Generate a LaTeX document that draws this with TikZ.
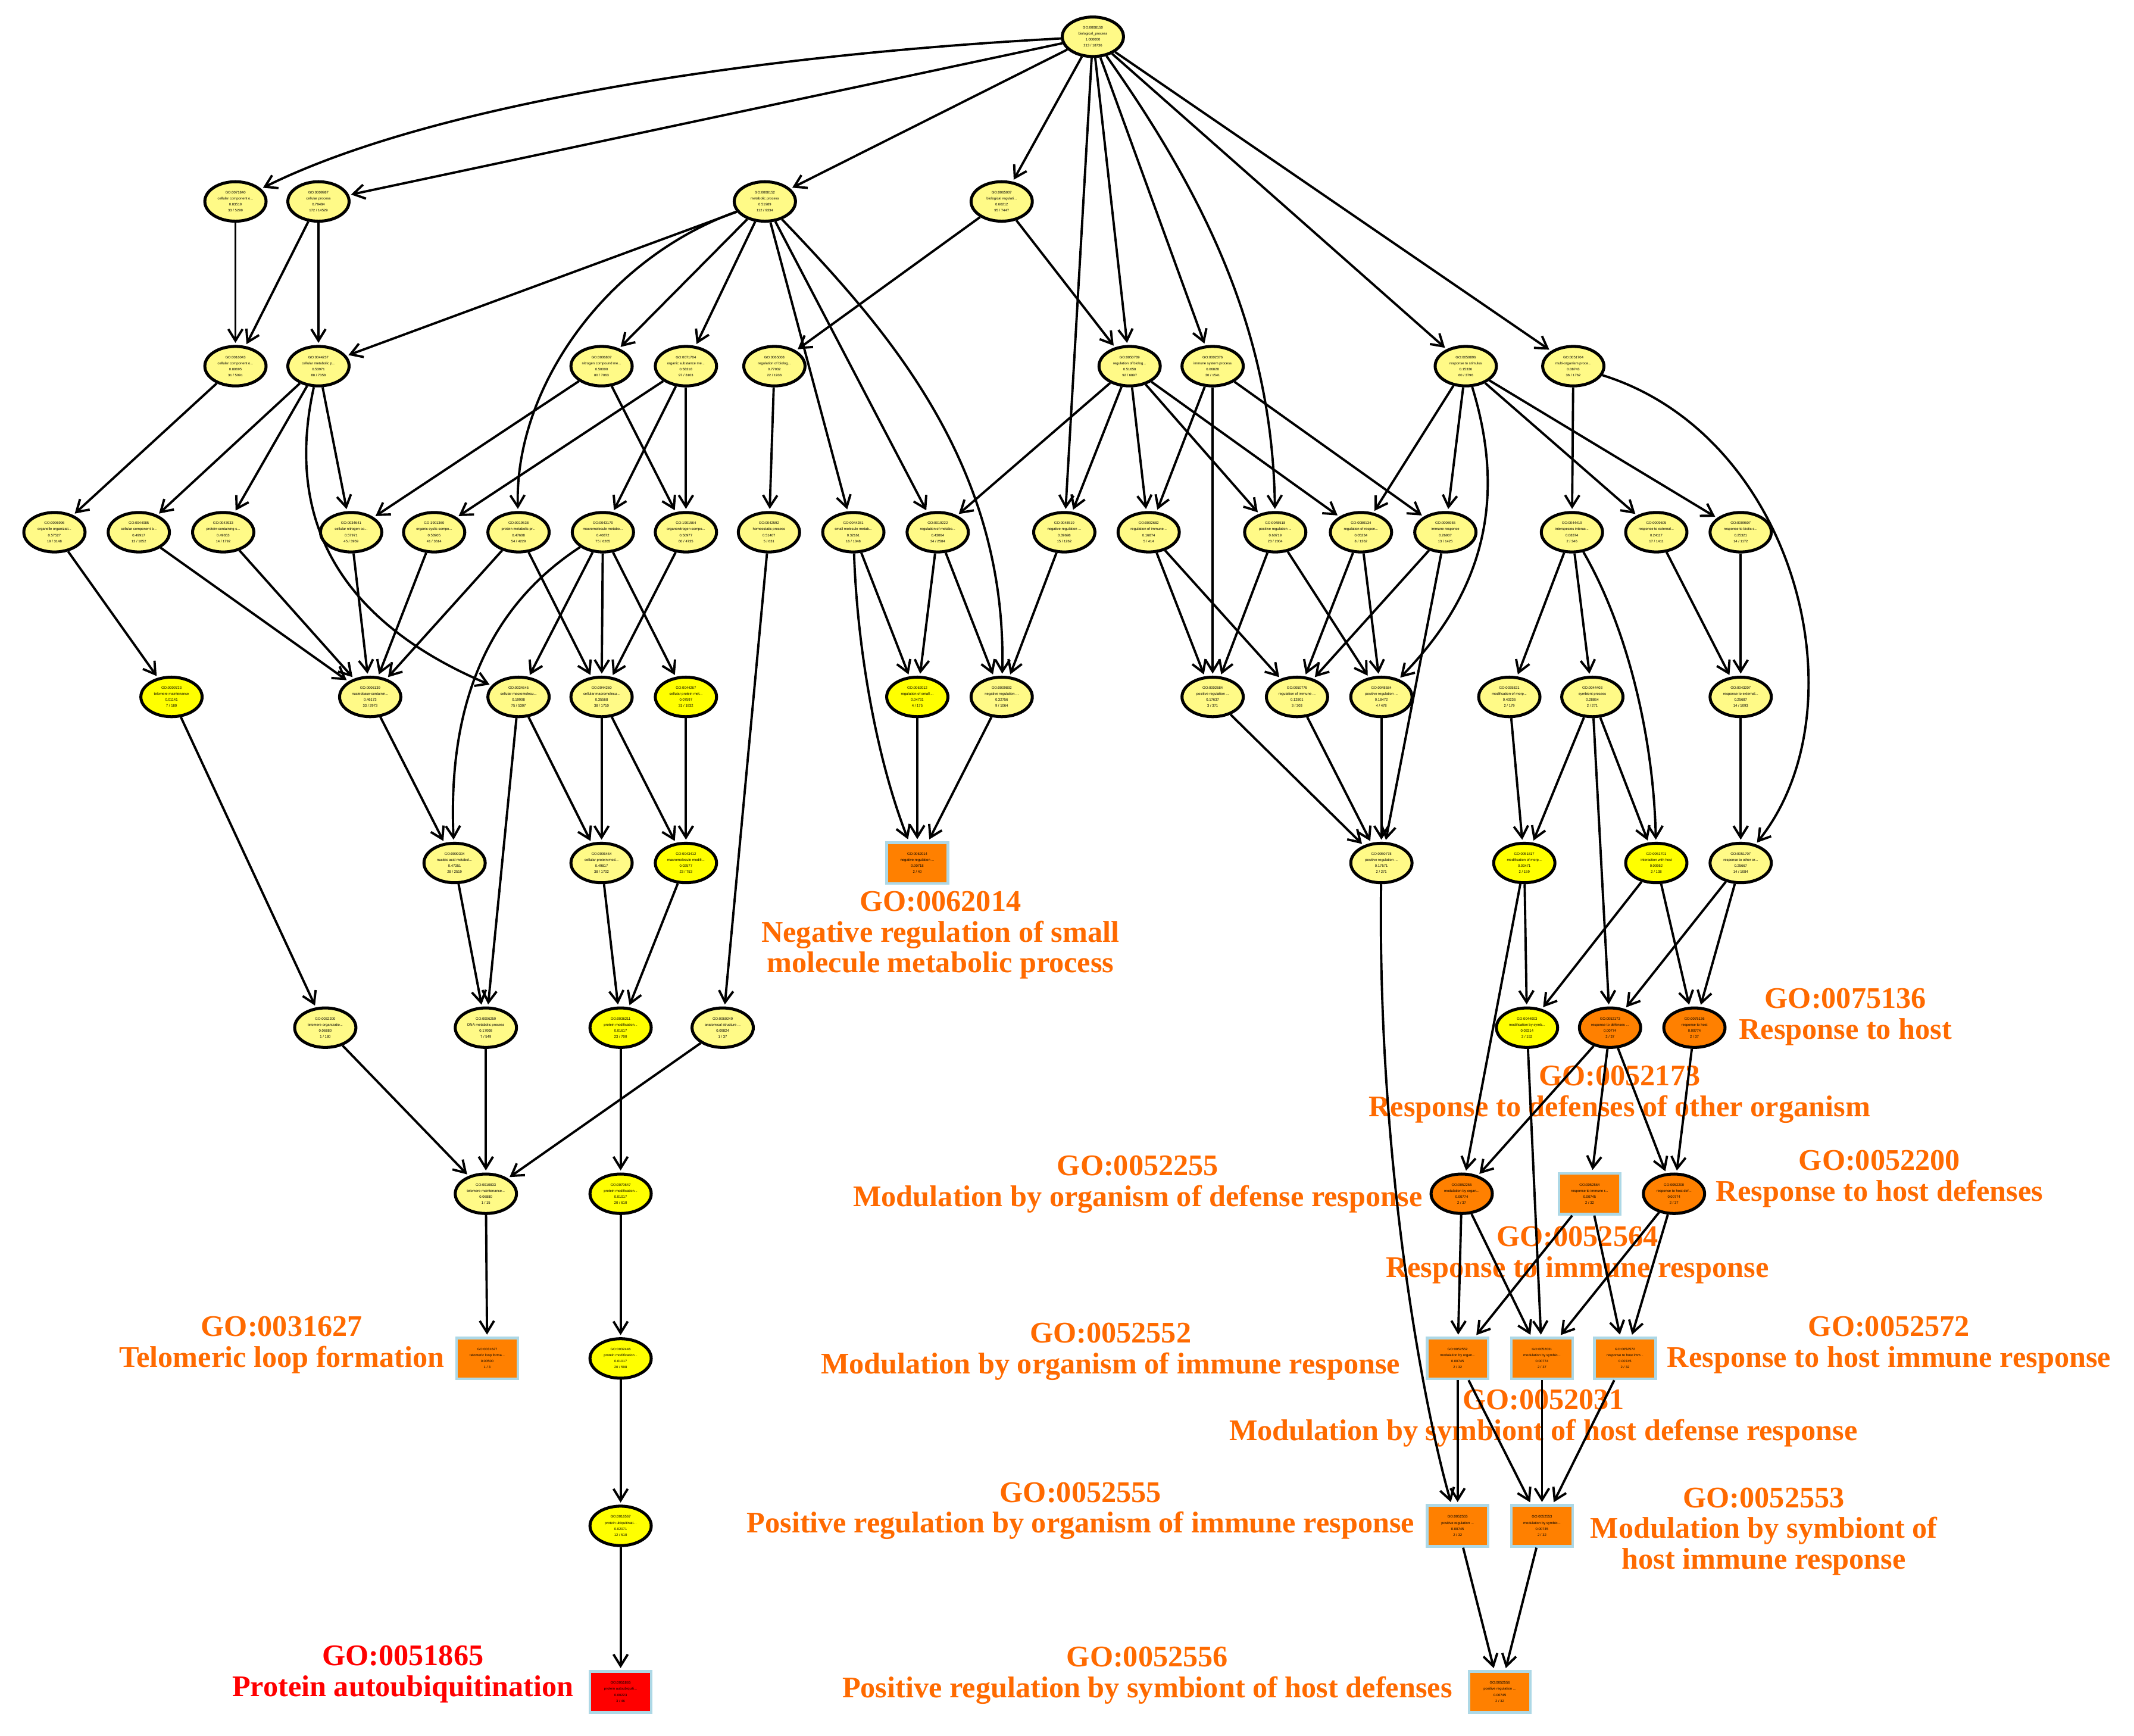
\documentclass[tikz,border=0pt]{standalone}
\usepackage{fontspec}
\setmainfont{Liberation Serif}
\newfontfamily\nodefont{Liberation Sans}
\usetikzlibrary{shapes.geometric,arrows.meta}
\definecolor{lyel}{RGB}{255,250,135}
\definecolor{byel}{RGB}{255,255,0}
\definecolor{gorange}{RGB}{255,128,0}
\definecolor{labor}{RGB}{255,106,0}
\definecolor{gred}{RGB}{255,0,0}
\definecolor{rectb}{RGB}{173,216,230}
\tikzset{
  gonode/.style={ellipse, draw=black, line width=2.2pt, fill=lyel, minimum width=45pt, minimum height=29pt, inner sep=0pt, align=center, font=\nodefont\fontsize{2.6}{4.4}\selectfont},
  byn/.style={gonode, fill=byel},
  oen/.style={gonode, fill=gorange},
  gorect/.style={rectangle, draw=rectb, line width=2pt, fill=gorange, minimum width=45pt, minimum height=30pt, inner sep=0pt, align=center, font=\nodefont\fontsize{2.6}{4.4}\selectfont},
  redrect/.style={gorect, fill=gred},
  conn/.style={-{Straight Barb[length=8.5pt,width=10.5pt]}, line width=1.7pt, shorten >=1.5pt},
  lab/.style={font=\bfseries\fontsize{22}{22.5}\selectfont, text=labor, align=center, inner sep=0pt},
  redlab/.style={lab, text=gred}
}
\begin{document}
\begin{tikzpicture}[x=1pt,y=-1pt]
\fill[white] (0,0) rectangle (1568,1275);
\useasboundingbox (0,0) rectangle (1568,1275);

% ---------- labels ----------
\node[lab] (lab1) at (691,687) {GO:0062014\\Negative regulation of small\\molecule metabolic process};
\node[lab] (lab2) at (1356,747) {GO:0075136\\Response to host};
\node[lab] (lab3) at (1190,804) {GO:0052173\\Response to defenses of other organism};
\node[lab] (lab4) at (836,870) {GO:0052255\\Modulation by organism of defense response};
\node[lab] (lab5) at (1381,866) {GO:0052200\\Response to host defenses};
\node[lab] (lab6) at (1159,922) {GO:0052564\\Response to immune response};
\node[lab] (lab7) at (207,988) {GO:0031627\\Telomeric loop formation};
\node[lab] (lab8) at (816,993) {GO:0052552\\Modulation by organism of immune response};
\node[lab] (lab9) at (1388,988) {GO:0052572\\Response to host immune response};
\node[lab] (lab10) at (1134,1042) {GO:0052031\\Modulation by symbiont of host defense response};
\node[lab] (lab11) at (794,1110) {GO:0052555\\Positive regulation by organism of immune response};
\node[lab] (lab12) at (1296,1125) {GO:0052553\\Modulation by symbiont of\\host immune response};
\node[redlab] (lab13) at (296,1230) {GO:0051865\\Protein autoubiquitination};
\node[lab] (lab14) at (843,1231) {GO:0052556\\Positive regulation by symbiont of host defenses};

% ---------- nodes ----------
\node[gonode] (root) at (803,27) {GO:0008150\\biological\_process\\1.000000\\213 / 18736};

\node[gonode] (a1) at (173,148) {GO:0071840\\cellular component o...\\0.83519\\33 / 5299};
\node[gonode] (a2) at (234,148) {GO:0009987\\cellular process\\0.79484\\172 / 14529};
\node[gonode] (a3) at (562,148) {GO:0008152\\metabolic process\\0.51989\\112 / 9334};
\node[gonode] (a4) at (736,148) {GO:0065007\\biological regulati...\\0.60212\\95 / 7447};

\node[gonode] (b1) at (173,269) {GO:0016043\\cellular component o...\\0.80695\\31 / 5091};
\node[gonode] (b2) at (234,269) {GO:0044237\\cellular metabolic p...\\0.53971\\88 / 7358};
\node[gonode] (b3) at (442,269) {GO:0006807\\nitrogen compound me...\\0.50000\\80 / 7063};
\node[gonode] (b4) at (504,269) {GO:0071704\\organic substance me...\\0.58318\\97 / 8103};
\node[gonode] (b5) at (569,269) {GO:0065008\\regulation of biolog...\\0.77032\\22 / 1936};
\node[gonode] (b6) at (830,269) {GO:0050789\\regulation of biolog...\\0.51658\\92 / 6897};
\node[gonode] (b7) at (891,269) {GO:0002376\\immune system process\\0.06828\\30 / 1541};
\node[gonode] (b8) at (1077,269) {GO:0050896\\response to stimulus\\0.15336\\60 / 3796};
\node[gonode] (b9) at (1156,269) {GO:0051704\\multi-organism proce...\\0.08743\\36 / 1762};

\node[gonode] (c1) at (40,391) {GO:0006996\\organelle organizati...\\0.57527\\19 / 3148};
\node[gonode] (c2) at (102,391) {GO:0044085\\cellular component b...\\0.49917\\13 / 1852};
\node[gonode] (c3) at (164,391) {GO:0043933\\protein-containing c...\\0.49653\\14 / 1792};
\node[gonode] (c4) at (258,391) {GO:0034641\\cellular nitrogen co...\\0.57971\\45 / 3959};
\node[gonode] (c5) at (319,391) {GO:1901360\\organic cyclic compo...\\0.53905\\41 / 3614};
\node[gonode] (c6) at (381,391) {GO:0019538\\protein metabolic pr...\\0.47608\\54 / 4229};
\node[gonode] (c7) at (443,391) {GO:0043170\\macromolecule metabo...\\0.40872\\75 / 6265};
\node[gonode] (c8) at (504,391) {GO:1901564\\organonitrogen compo...\\0.50977\\60 / 4735};
\node[gonode] (c9) at (565,391) {GO:0042592\\homeostatic process\\0.51407\\5 / 631};
\node[gonode] (c10) at (627,391) {GO:0044281\\small molecule metab...\\0.32161\\16 / 1048};
\node[gonode] (c11) at (689,391) {GO:0019222\\regulation of metabo...\\0.43064\\34 / 2584};
\node[gonode] (c12) at (782,391) {GO:0048519\\negative regulation ...\\0.39698\\15 / 1262};
\node[gonode] (c13) at (844,391) {GO:0002682\\regulation of immune...\\0.16874\\5 / 414};
\node[gonode] (c14) at (937,391) {GO:0048518\\positive regulation ...\\0.60719\\23 / 2004};
\node[gonode] (c15) at (1000,391) {GO:0080134\\regulation of respon...\\0.05234\\8 / 1362};
\node[gonode] (c16) at (1062,391) {GO:0006955\\immune response\\0.26907\\13 / 1425};
\node[gonode] (c17) at (1155,391) {GO:0044419\\interspecies interac...\\0.08374\\2 / 346};
\node[gonode] (c18) at (1217,391) {GO:0009605\\response to external...\\0.24117\\17 / 1411};
\node[gonode] (c19) at (1279,391) {GO:0009607\\response to biotic s...\\0.25321\\14 / 1172};

\node[byn] (d1) at (126,512) {GO:0000723\\telomere maintenance\\0.01141\\7 / 180};
\node[gonode] (d2) at (272,512) {GO:0006139\\nucleobase-containin...\\0.46173\\33 / 2973};
\node[gonode] (d3) at (381,512) {GO:0034645\\cellular macromolecu...\\0.19908\\75 / 5307};
\node[gonode] (d4) at (442,512) {GO:0044260\\cellular macromolecu...\\0.35568\\38 / 1710};
\node[byn] (d5) at (504,512) {GO:0044267\\cellular protein met...\\0.07597\\31 / 1932};
\node[byn] (d6) at (674,512) {GO:0062012\\regulation of small ...\\0.04731\\4 / 175};
\node[gonode] (d7) at (736,512) {GO:0009892\\negative regulation ...\\0.32756\\9 / 1064};
\node[gonode] (d8) at (891,512) {GO:0002684\\positive regulation ...\\0.17637\\3 / 371};
\node[gonode] (d9) at (953,512) {GO:0050776\\regulation of immune ...\\0.12801\\3 / 303};
\node[gonode] (d10) at (1015,512) {GO:0048584\\positive regulation ...\\0.18472\\4 / 478};
\node[gonode] (d11) at (1109,512) {GO:0035821\\modification of morp...\\0.40236\\2 / 179};
\node[gonode] (d12) at (1170,512) {GO:0044403\\symbiont process\\0.28864\\2 / 271};
\node[gonode] (d13) at (1279,512) {GO:0043207\\response to external...\\0.25687\\14 / 1093};

\node[gonode] (e1) at (334,634) {GO:0090304\\nucleic acid metabol...\\0.47351\\28 / 2519};
\node[gonode] (e2) at (442,634) {GO:0006464\\cellular protein mod...\\0.49817\\38 / 1702};
\node[byn] (e3) at (504,634) {GO:0043412\\macromolecule modifi...\\0.02577\\23 / 753};
\node[gorect] (e4) at (674,634) {GO:0062014\\negative regulation ...\\0.00718\\2 / 40};
\node[gonode] (e5) at (1015,634) {GO:0050778\\positive regulation ...\\0.17571\\2 / 271};
\node[byn] (e6) at (1120,634) {GO:0051817\\modification of morp...\\0.03471\\2 / 159};
\node[byn] (e7) at (1217,634) {GO:0051701\\interaction with host\\0.00952\\2 / 138};
\node[gonode] (e8) at (1279,634) {GO:0051707\\response to other or...\\0.25667\\14 / 1084};

\node[gonode] (f1) at (239,755) {GO:0032200\\telomere organizatio...\\0.06880\\1 / 180};
\node[gonode] (f2) at (357,755) {GO:0006259\\DNA metabolic process\\0.17008\\7 / 549};
\node[byn] (f3) at (456,755) {GO:0036211\\protein modification...\\0.01617\\23 / 700};
\node[gonode] (f4) at (531,755) {GO:0060249\\anatomical structure ...\\0.09824\\1 / 37};
\node[byn] (f5) at (1122,755) {GO:0044003\\modification by symb...\\0.03314\\2 / 152};
\node[oen] (f6) at (1183,755) {GO:0052173\\response to defenses ...\\0.00774\\2 / 37};
\node[oen] (f7) at (1245,755) {GO:0075136\\response to host\\0.00774\\2 / 37};

\node[gonode] (g1) at (357,877) {GO:0010833\\telomere maintenance...\\0.06880\\1 / 15};
\node[byn] (g2) at (456,877) {GO:0070647\\protein modification...\\0.01017\\20 / 610};
\node[oen] (g3) at (1074,877) {GO:0052255\\modulation by organ...\\0.00774\\2 / 37};
\node[gorect] (g4) at (1168,877) {GO:0052564\\response to immune r...\\0.00745\\2 / 32};
\node[oen] (g5) at (1230,877) {GO:0052200\\response to host def...\\0.00774\\2 / 37};

\node[gorect] (h1) at (358,998) {GO:0031627\\telomeric loop forma...\\0.00500\\1 / 3};
\node[byn] (h2) at (456,998) {GO:0032446\\protein modification...\\0.01017\\20 / 598};
\node[gorect] (h3) at (1071,998) {GO:0052552\\modulation by organ...\\0.00745\\2 / 32};
\node[gorect] (h4) at (1133,998) {GO:0052031\\modulation by symbio...\\0.00774\\2 / 37};
\node[gorect] (h5) at (1194,998) {GO:0052572\\response to host imm...\\0.00745\\2 / 32};

\node[byn] (i1) at (456,1121) {GO:0016567\\protein ubiquitinati...\\0.02071\\12 / 510};
\node[gorect] (i2) at (1071,1121) {GO:0052555\\positive regulation ...\\0.00745\\2 / 32};
\node[gorect] (i3) at (1133,1121) {GO:0052553\\modulation by symbio...\\0.00745\\2 / 32};

\node[redrect] (j1) at (456,1243) {GO:0051865\\protein autoubiquiti...\\0.00223\\3 / 46};
\node[gorect] (j2) at (1102,1243) {GO:0052556\\positive regulation ...\\0.00745\\2 / 32};

% ---------- connectors ----------
\draw[conn] (root) .. controls (560,40) and (320,75) .. (a1);
\draw[conn] (root) -- (a2);
\draw[conn] (root) -- (a3);
\draw[conn] (root) -- (a4);
\draw[conn] (root) -- (c12);
\draw[conn] (root) -- (b6);
\draw[conn] (root) -- (b7);
\draw[conn] (root) .. controls (890,150) and (935,250) .. (c14);
\draw[conn] (root) -- (b8);
\draw[conn] (root) -- (b9);

\draw[conn] (a1) -- (b1);
\draw[conn] (a2) -- (b1);
\draw[conn] (a2) -- (b2);
\draw[conn] (a3) -- (b2);
\draw[conn] (a3) .. controls (445,190) and (378,285) .. (c6);
\draw[conn] (a3) -- (b3);
\draw[conn] (a3) -- (b4);
\draw[conn] (a3) -- (c10);
\draw[conn] (a3) -- (c11);
\draw[conn] (a3) .. controls (650,240) and (740,340) .. (d7);
\draw[conn] (a4) -- (b5);
\draw[conn] (a4) -- (b6);

\draw[conn] (b1) -- (c1);
\draw[conn] (b2) -- (c2);
\draw[conn] (b2) -- (c3);
\draw[conn] (b2) -- (c4);
\draw[conn] (b2) .. controls (205,400) and (270,465) .. (d3);
\draw[conn] (b3) -- (c4);
\draw[conn] (b3) -- (c8);
\draw[conn] (b4) -- (c5);
\draw[conn] (b4) -- (c7);
\draw[conn] (b4) -- (c8);
\draw[conn] (b5) -- (c9);
\draw[conn] (b6) -- (c11);
\draw[conn] (b6) -- (c12);
\draw[conn] (b6) -- (c13);
\draw[conn] (b6) -- (c14);
\draw[conn] (b6) -- (c15);
\draw[conn] (b7) -- (c13);
\draw[conn] (b7) -- (d8);
\draw[conn] (b7) -- (c16);
\draw[conn] (b8) -- (c15);
\draw[conn] (b8) -- (c16);
\draw[conn] (b8) .. controls (1105,360) and (1095,430) .. (d10);
\draw[conn] (b8) -- (c18);
\draw[conn] (b8) -- (c19);
\draw[conn] (b9) -- (c17);
\draw[conn] (b9) .. controls (1320,320) and (1370,520) .. (e8);

\draw[conn] (c1) -- (d1);
\draw[conn] (c2) -- (d2);
\draw[conn] (c3) -- (d2);
\draw[conn] (c4) -- (d2);
\draw[conn] (c5) -- (d2);
\draw[conn] (c6) -- (d2);
\draw[conn] (c6) -- (d4);
\draw[conn] (c7) .. controls (345,455) and (330,540) .. (e1);
\draw[conn] (c7) -- (d3);
\draw[conn] (c7) -- (d4);
\draw[conn] (c7) -- (d5);
\draw[conn] (c8) -- (d4);
\draw[conn] (c9) -- (f4);
\draw[conn] (c10) -- (d6);
\draw[conn] (c10) .. controls (630,480) and (645,560) .. (e4);
\draw[conn] (c11) -- (d6);
\draw[conn] (c11) -- (d7);
\draw[conn] (c12) -- (d7);
\draw[conn] (c13) -- (d8);
\draw[conn] (c13) -- (d9);
\draw[conn] (c14) -- (d8);
\draw[conn] (c14) -- (d10);
\draw[conn] (c15) -- (d9);
\draw[conn] (c15) -- (d10);
\draw[conn] (c16) -- (d9);
\draw[conn] (c16) -- (e5);
\draw[conn] (c17) -- (d11);
\draw[conn] (c17) -- (d12);
\draw[conn] (c17) .. controls (1195,460) and (1215,540) .. (e7);
\draw[conn] (c18) -- (d13);
\draw[conn] (c19) -- (d13);

\draw[conn] (d1) -- (f1);
\draw[conn] (d2) -- (e1);
\draw[conn] (d3) -- (e2);
\draw[conn] (d3) -- (f2);
\draw[conn] (d4) -- (e2);
\draw[conn] (d4) -- (e3);
\draw[conn] (d5) -- (e3);
\draw[conn] (d6) -- (e4);
\draw[conn] (d7) -- (e4);
\draw[conn] (d8) -- (e5);
\draw[conn] (d9) -- (e5);
\draw[conn] (d10) -- (e5);
\draw[conn] (d11) -- (e6);
\draw[conn] (d12) -- (e6);
\draw[conn] (d12) -- (e7);
\draw[conn] (d12) -- (f6);
\draw[conn] (d13) -- (e8);

\draw[conn] (e1) -- (f2);
\draw[conn] (e2) -- (f3);
\draw[conn] (e3) -- (f3);
\draw[conn] (e5) .. controls (1012,850) and (1045,1030) .. (i2);
\draw[conn] (e6) -- (f5);
\draw[conn] (e6) -- (g3);
\draw[conn] (e7) -- (f5);
\draw[conn] (e7) -- (f7);
\draw[conn] (e8) -- (f6);
\draw[conn] (e8) -- (f7);

\draw[conn] (f1) -- (g1);
\draw[conn] (f2) -- (g1);
\draw[conn] (f4) -- (g1);
\draw[conn] (f3) -- (g2);
\draw[conn] (f5) -- (h4);
\draw[conn] (f6) -- (g3);
\draw[conn] (f6) -- (g4);
\draw[conn] (f6) -- (g5);
\draw[conn] (f7) -- (g5);

\draw[conn] (g1) -- (h1);
\draw[conn] (g2) -- (h2);
\draw[conn] (g3) -- (h3);
\draw[conn] (g3) -- (h4);
\draw[conn] (g4) -- (h3);
\draw[conn] (g4) -- (h5);
\draw[conn] (g5) -- (h4);
\draw[conn] (g5) -- (h5);

\draw[conn] (h2) -- (i1);
\draw[conn] (h3) -- (i2);
\draw[conn] (h3) -- (i3);
\draw[conn] (h4) -- (i3);
\draw[conn] (h5) -- (i3);

\draw[conn] (i1) -- (j1);
\draw[conn] (i2) -- (j2);
\draw[conn] (i3) -- (j2);
\end{tikzpicture}
\end{document}
